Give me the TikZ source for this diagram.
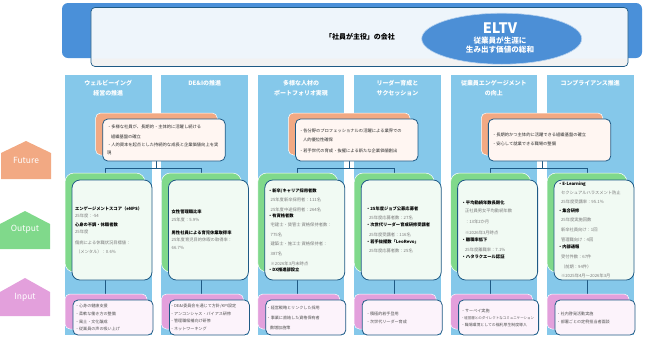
\documentclass[tikz,border=0pt]{standalone}
\usepackage{fontspec}
\setmainfont{Noto Sans CJK JP}
\usetikzlibrary{shapes.geometric}
\definecolor{banner}{HTML}{4A90D9}
\definecolor{innerc}{HTML}{EEF5FB}
\definecolor{ellc}{HTML}{4C8FD6}
\definecolor{colbg}{HTML}{85C8EA}
\definecolor{fut}{HTML}{F2A983}
\definecolor{outc}{HTML}{80D98B}
\definecolor{inpc}{HTML}{E3A0DC}
\definecolor{bord}{HTML}{1F5A85}
\definecolor{futwc}{HTML}{FFF6F2}
\definecolor{outwc}{HTML}{F1FAF3}
\definecolor{inpwc}{HTML}{FCF3FB}
\definecolor{tgrey}{HTML}{7A7A7A}
\definecolor{tdark}{HTML}{2A2A2A}
\definecolor{tin}{HTML}{505050}
\definecolor{stripc}{HTML}{F2F2F2}
\pgfdeclarelayer{cols}
\pgfdeclarelayer{conn}
\pgfsetlayers{cols,conn,main}
\tikzset{
  every node/.style={inner sep=0pt, outer sep=0pt},
  futbox/.style={rectangle, rounded corners=5bp, fill=fut, draw=white, line width=0.5bp, minimum width=121.6bp, minimum height=42bp},
  futwhite/.style={rectangle, rounded corners=5bp, fill=futwc, draw=bord, line width=0.8bp, minimum width=122.4bp, minimum height=42bp},
  outbox/.style={rectangle, rounded corners=9bp, fill=outc, draw=white, line width=0.5bp, minimum width=80bp, minimum height=99bp},
  outwhite/.style={rectangle, rounded corners=8bp, fill=outwc, draw=bord, line width=0.8bp, minimum width=80bp, minimum height=100bp},
  inbox/.style={rectangle, rounded corners=5bp, fill=inpc, draw=white, line width=0.5bp, minimum width=82bp, minimum height=35bp},
  inwhite/.style={rectangle, rounded corners=5bp, fill=inpwc, draw=bord, line width=0.8bp, minimum width=80bp, minimum height=35bp},
  hdr/.style={text=white, font=\fontsize{6}{7}\selectfont\bfseries},
  ft/.style={anchor=west, text=tdark, font=\fontsize{4.3}{5}\selectfont},
  tb/.style={anchor=west, text=black, font=\fontsize{4.3}{5}\selectfont\bfseries},
  tv/.style={anchor=west, text=tgrey, font=\fontsize{4.3}{5}\selectfont},
  it/.style={anchor=west, text=tin, font=\fontsize{4.1}{5}\selectfont},
  conn/.style={draw=bord, line width=0.8bp},
  tag/.style={text=white, font=\fontsize{8.5}{9}\selectfont},
  elt/.style={text=white, font=\fontsize{7.6}{9}\selectfont\bfseries},
}
\begin{document}
\begin{tikzpicture}[x=1bp,y=-1bp]
\useasboundingbox (0,0) rectangle (645,337);
% banner
\fill[banner, rounded corners=6bp] (62,3) rectangle (642,58);
\node[rectangle, rounded corners=4bp, fill=innerc, draw=bord, line width=0.7bp, minimum width=537bp, minimum height=59bp,
  path picture={\fill[stripc] (path picture bounding box.south west) rectangle ([yshift=8bp]path picture bounding box.south east);}] (hdrbox) at (359.5,37) {};
\node[font=\fontsize{7}{8}\selectfont\bfseries] (title) at (360,36.7) {「社員が主役」の会社};
\node[ellipse, fill=ellc, draw=white!60!ellc, line width=0.6bp, minimum width=160bp, minimum height=51bp] (eltv) at (501.7,38.7) {};
\node[text=white, font=\fontsize{14.5}{16}\selectfont\bfseries] (eltvt) at (500,28) {ELTV};
\node[elt] (eltv1) at (500,40.5) {従業員が生涯に};
\node[elt] (eltv2) at (500,50) {生み出す価値の総和};
% left tags
\fill[fut] (26,141) -- (51,153) -- (51,179) -- (1,179) -- (1,153) -- cycle;
\node[tag] (futtag) at (26,160) {Future};
\fill[outc] (25,211) -- (50,224) -- (50,249) -- (0,249) -- (0,224) -- cycle;
\node[tag] (outtag) at (25,229.5) {Output};
\fill[inpc] (25,278) -- (50,292) -- (50,316) -- (0,316) -- (0,292) -- cycle;
\node[tag] (inptag) at (25,297) {Input};
% columns and boxes
\foreach \i in {1,...,6}{
  \pgfmathsetmacro\L{65+96.4*(\i-1)}
  \begin{pgfonlayer}{cols}
    \fill[colbg] (\L,75) rectangle ({\L+86.5},335);
  \end{pgfonlayer}
  \node[outbox] (og\i) at ({\L+40},222.5) {};
  \node[outwhite] (ow\i) at ({\L+47},230) {};
  \node[inbox] (ip\i) at ({\L+41},311.5) {};
  \node[inwhite] (iw\i) at ({\L+48},317.5) {};
}
\foreach \g/\c in {1/156.45,2/349.25,3/542.05}{
  \node[futbox] (fo\g) at (\c,134) {};
  \node[futwhite] (fw\g) at ({\c+7.5},140) {};
}
% connectors
\begin{pgfonlayer}{conn}
\foreach \g/\a/\b in {1/1/2,2/3/4,3/5/6}{
  \draw[conn] (fo\g.south) -- ++(0,13) -| (og\a.north);
  \draw[conn] (fo\g.south) -- ++(0,13) -| (og\b.north);
}
\foreach \i in {1,...,6}{
  \draw[conn] (og\i.south) -- (og\i.south |- ip\i.north);
}
\end{pgfonlayer}
% headers
\node[hdr] (h1a) at (108.25,83) {ウェルビーイング};
\node[hdr] (h1b) at (108.25,93) {経営の推進};
\node[hdr] (h2a) at (204.65,83) {DE\&Iの推進};
\node[hdr] (h3a) at (301.05,83) {多様な人材の};
\node[hdr] (h3b) at (301.05,93) {ポートフォリオ実現};
\node[hdr] (h4a) at (397.45,83) {リーダー育成と};
\node[hdr] (h4b) at (397.45,93) {サクセッション};
\node[hdr] (h5a) at (493.85,83) {従業員エンゲージメント};
\node[hdr] (h5b) at (493.85,93) {の向上};
\node[hdr] (h6a) at (590.25,83) {コンプライアンス推進};
% future texts
\node[ft] (f1a) at (107,127) {・多様な社員が、長期的・主体的に活躍し続ける};
\node[ft] (f1b) at (111,137) {組織基盤の確立};
\node[ft] (f1c) at (107,145) {・人的資本を起点とした持続的な成長と企業価値向上を実};
\node[ft] (f1d) at (107,153) {現};
\node[ft] (f2a) at (299,131) {・各分野のプロフェッショナルの活躍による業界での};
\node[ft] (f2b) at (303,140) {人的優位性確保};
\node[ft] (f2c) at (299,151) {・若手世代の育成・抜擢による新たな企業価値創出};
\node[ft] (f3a) at (492,135) {・長期的かつ主体的に活躍できる組織基盤の確立};
\node[ft] (f3b) at (492,144) {・安心して就業できる職場の整備};
% output col1
\node[tb] (o1a) at (75,208.7) {エンゲージメントスコア（eNPS）};
\node[tv] (o1b) at (75,215.5) {25年度：-54};
\node[tb] (o1c) at (75,225) {心身の不調・休職者数};
\node[tv] (o1d) at (75,232) {25年度};
\node[tv] (o1e) at (75,243) {傷病による休職状況目標値：};
\node[tv] (o1f) at (76,252) {（メンタル）：0.6\%};
% output col2
\node[tb] (o2a) at (171.7,212) {女性管理職比率};
\node[tv] (o2b) at (171.7,219.7) {25年度：5.9\%};
\node[tb] (o2c) at (171.7,233) {男性社員による育児休業取得率};
\node[tv] (o2d) at (171.7,239.7) {25年度育児目的休暇の取得率：};
\node[tv] (o2e) at (171.7,248) {66.7\%};
% output col3
\node[tb] (o3a) at (268,190.7) {・新卒/キャリア採用者数};
\node[tv] (o3b) at (270.7,200) {25年度新卒採用者：111名};
\node[tv] (o3c) at (270.7,210) {25年度中途採用者：264名};
\node[tb] (o3d) at (268,216) {・有資格者数};
\node[tv] (o3e) at (270.7,225) {宅建士・賃管士 資格保持者数：};
\node[tv] (o3f) at (270.7,234.7) {775名};
\node[tv] (o3g) at (270.7,244) {建築士・施工士 資格保持者：};
\node[tv] (o3h) at (270.7,254) {387名};
\node[tv] (o3i) at (270.7,264) {※2026年3月末時点};
\node[tb] (o3j) at (268,270.3) {・DX推進部設立};
% output col4
\node[tb] (o4a) at (366,208.7) {・25年度ジョブ公募応募者};
\node[tv] (o4b) at (369,218) {25年度応募者数：27名};
\node[tb] (o4c) at (366,225) {・次世代リーダー育成研修受講者};
\node[tv] (o4d) at (369,234.7) {25年度受講者：116名};
\node[tb] (o4e) at (366,242) {・若手抜擢数「LeoRevo」};
\node[tv] (o4f) at (369,251) {25年度応募者数：25名};
% output col5
\node[tb] (o5a) at (461.7,203) {・平均勤続年数長期化};
\node[tv] (o5b) at (465,211) {正社員男女平均勤続年数};
\node[tv] (o5c) at (465,222) {：13年2か月};
\node[tv] (o5d) at (465,233) {※2026年3月時点};
\node[tb] (o5e) at (461.7,239.7) {・離職率低下};
\node[tv] (o5f) at (465,249.7) {25年度離職率：7.1\%};
\node[tb] (o5g) at (461.7,257) {・ハタラクエール認証};
% output col6
\node[tb] (o6a) at (558,184) {・E-Learning};
\node[tv] (o6b) at (561,193) {セクシュアルハラスメント防止};
\node[tv] (o6c) at (561,202) {25年度受講率：95.1\%};
\node[tb] (o6d) at (558,210.7) {・集合研修};
\node[tv] (o6e) at (561,220) {25年度実施回数};
\node[tv] (o6f) at (561,229.7) {新卒社員向け：1回};
\node[tv] (o6g) at (561,239.7) {管理職向け：4回};
\node[tb] (o6h) at (558,247) {・内部通報};
\node[tv] (o6i) at (561,257) {受付件数：67件};
\node[tv] (o6j) at (561,267) {（前期：94件）};
\node[tv] (o6k) at (561,276) {※2025年4月～2026年3月};
% input texts
\node[it] (i1a) at (75,306) {・心身の健康支援};
\node[it] (i1b) at (75,314) {・柔軟な働き方の整備};
\node[it] (i1c) at (75,321.5) {・風土・文化醸成};
\node[it] (i1d) at (75,328.7) {・従業員の声の吸い上げ};
\node[it] (i2a) at (170,306) {・DE\&I委員会を通じて方針/KPI設定};
\node[it] (i2b) at (170,314) {・アンコンシャス・バイアス研修};
\node[it] (i2c) at (170,321) {・管理職候補向け研修};
\node[it] (i2d) at (170,328.7) {・ネットワーキング};
\node[it] (i3a) at (266.7,307.7) {・経営戦略とリンクした採用};
\node[it] (i3b) at (266.7,317.7) {・事業に直結した資格保有者};
\node[it] (i3c) at (270,327.7) {数増加施策};
\node[it] (i4a) at (366,314.3) {・積極的若手登用};
\node[it] (i4b) at (366,322) {・次世代リーダー育成};
\node[it] (i5a) at (461,311) {・サーベイ実施};
\node[it, font=\fontsize{3.5}{4}\selectfont] (i5b) at (461,318) {・経営層とのダイレクトなコミュニケーション};
\node[it, font=\fontsize{3.9}{4.5}\selectfont] (i5c) at (461,324.7) {・職場環境としての福利厚生制度導入};
\node[it] (i6a) at (556.7,314.3) {・社内啓発活動実施};
\node[it] (i6b) at (556.7,322) {・部署ごとの定例担当者面談};
\end{tikzpicture}
\end{document}
